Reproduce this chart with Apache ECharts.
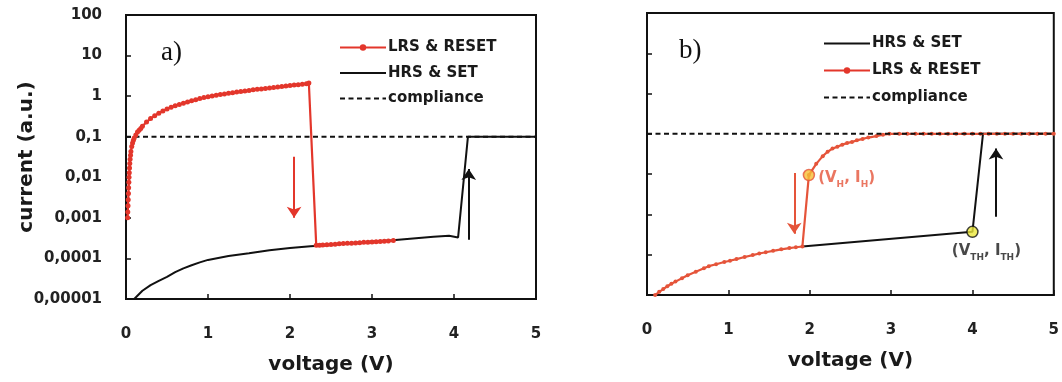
<!DOCTYPE html>
<html><head><meta charset="utf-8">
<script src="https://cdn.jsdelivr.net/npm/echarts@6/dist/echarts.min.js"></script>
<style>html,body{margin:0;padding:0;background:#fff}#c{width:1062px;height:382px}</style>
</head><body><div id="c"></div><script>
// ---- data ----
const yTickLabels = ['0,00001','0,0001','0,001','0,01','0,1','1','10','100'];
const complianceLevel = [[0,0.1],[5,0.1]];
// panel a) LRS & RESET (V, I)
const lrsA = [[0.02,0.001],[0.022,0.0014],[0.025,0.002],[0.027,0.0028],[0.03,0.004],[0.032,0.0055],[0.035,0.0075],[0.037,0.01],[0.04,0.013],[0.043,0.017],[0.046,0.022],[0.05,0.028],[0.055,0.035],[0.06,0.043],[0.07,0.057],[0.08,0.07],[0.09,0.082],[0.1,0.093],[0.12,0.11],[0.14,0.13],[0.16,0.145],[0.18,0.16],[0.2,0.18],[0.25,0.23],[0.3,0.28],[0.35,0.33],[0.4,0.38],[0.45,0.43],[0.5,0.48],[0.55,0.53],[0.6,0.58],[0.65,0.62],[0.7,0.67],[0.75,0.72],[0.8,0.77],[0.85,0.82],[0.9,0.87],[0.95,0.92],[1.0,0.97],[1.05,1.01],[1.1,1.05],[1.15,1.09],[1.2,1.13],[1.25,1.18],[1.3,1.22],[1.35,1.26],[1.4,1.3],[1.45,1.34],[1.5,1.38],[1.55,1.43],[1.6,1.47],[1.65,1.51],[1.7,1.55],[1.75,1.59],[1.8,1.63],[1.85,1.68],[1.9,1.72],[1.95,1.77],[2.0,1.82],[2.05,1.87],[2.1,1.92],[2.15,1.97],[2.2,2.02],[2.23,2.1],[2.32,0.00021],[2.36,0.000212],[2.4,0.000215],[2.45,0.000218],[2.5,0.00022],[2.55,0.000225],[2.6,0.00023],[2.65,0.000232],[2.7,0.000235],[2.75,0.000238],[2.8,0.00024],[2.85,0.000245],[2.9,0.00025],[2.95,0.000252],[3.0,0.000255],[3.05,0.000258],[3.1,0.00026],[3.15,0.000265],[3.2,0.00027],[3.26,0.000275]];
// panel a) HRS & SET
const hrsA = [[0.1,0.00001],[0.2,0.000016],[0.3,0.000022],[0.4,0.000028],[0.5,0.000035],[0.6,0.000046],[0.7,0.000057],[0.8,0.000068],[0.9,0.00008],[1.0,0.000092],[1.25,0.000115],[1.5,0.000135],[1.75,0.00016],[2.0,0.00018],[2.25,0.0002],[2.5,0.000215],[2.75,0.00024],[3.0,0.00026],[3.25,0.00028],[3.5,0.00031],[3.75,0.00034],[3.94,0.00036],[4.05,0.00033],[4.17,0.1],[5,0.1]];
// panel b) LRS & RESET
const lrsB = [[0.1,0.00001],[0.15,0.000012],[0.2,0.000014],[0.25,0.0000165],[0.3,0.000019],[0.35,0.0000215],[0.43,0.000026],[0.5,0.000031],[0.6,0.000038],[0.7,0.000046],[0.76,0.000052],[0.85,0.000058],[0.95,0.000066],[1.02,0.000071],[1.1,0.000078],[1.2,0.000088],[1.3,0.000098],[1.38,0.000107],[1.46,0.000115],[1.55,0.000125],[1.65,0.000136],[1.75,0.000146],[1.83,0.000153],[1.91,0.00016],[1.99,0.0095],[2.08,0.018],[2.16,0.028],[2.22,0.036],[2.28,0.043],[2.34,0.048],[2.4,0.054],[2.46,0.059],[2.52,0.063],[2.58,0.069],[2.65,0.075],[2.72,0.081],[2.82,0.088],[2.9,0.095],[2.98,0.1],[3.1,0.1],[3.2,0.1],[3.3,0.1],[3.4,0.1],[3.5,0.1],[3.6,0.1],[3.7,0.1],[3.8,0.1],[3.9,0.1],[4.0,0.1],[4.1,0.1],[4.2,0.1],[4.3,0.1],[4.4,0.1],[4.5,0.1],[4.6,0.1],[4.7,0.1],[4.8,0.1],[4.9,0.1],[5.0,0.1]];
// panel b) HRS & SET
const hrsB = [[1.91,0.00016],[4.0,0.00037],[4.13,0.1],[5,0.1]];
// special points
const holdPoint = [[1.99,0.0095]];
const thresholdPoint = [[4.0,0.00037]];
// arrows [[x1,y1],[x2,y2]] (tail -> head)
const arrowsA = [[[2.05,0.032],[2.05,0.001]],[[4.18,0.00029],[4.18,0.016]]];
const arrowsB = [[[1.81,0.0107],[1.81,0.00033]],[[4.29,0.00087],[4.29,0.043]]];

const F = 'DejaVu Sans';
const RED_A = '#e3362b', RED_B = '#e5543a', INK = '#111';

function xAx(gi){
  return {type:'value', gridIndex:gi, min:0, max:5, interval:1,
    name:'voltage (V)', nameLocation:'middle', nameGap:56, nameMoveOverlap:false,
    nameTextStyle:{fontFamily:F, fontWeight:'bold', fontSize:20, color:'#1a1a1a'},
    axisLine:{onZero:false, lineStyle:{color:INK, width:2}},
    axisTick:{inside:true, length:5, lineStyle:{color:INK, width:1.5}},
    axisLabel:{margin:28, fontFamily:F, fontWeight:'bold', fontSize:15, color:'#222'},
    splitLine:{show:false}};
}
function yAx(gi, labels){
  const a = {type:'log', logBase:10, gridIndex:gi, min:0.00001, max:100,
    axisLine:{show:true, onZero:false, lineStyle:{color:INK, width:2}},
    axisTick:{show:true, inside:true, length:5, lineStyle:{color:INK, width:1.5}},
    axisLabel:{show:labels, margin:24, fontFamily:F, fontWeight:'bold', fontSize:15, color:'#222',
      formatter: v => yTickLabels[Math.round(Math.log10(v)) + 5]},
    splitLine:{show:false}, minorTick:{show:false}};
  if (labels) {
    a.name = 'current (a.u.)'; a.nameLocation = 'middle'; a.nameGap = 89; a.nameMoveOverlap = false;
    a.nameTextStyle = {fontFamily:F, fontWeight:'bold', fontSize:20, color:'#1a1a1a'};
  }
  return a;
}
function arrowML(list, colors){
  return {silent:true, animation:false, symbol:['none','arrow'], symbolSize:11,
    label:{show:false}, emphasis:{disabled:true},
    data: list.map((p,i)=>[
      {coord:p[0], lineStyle:{color:colors[i], width:2, type:'solid'}, itemStyle:{color:colors[i]}},
      {coord:p[1], lineStyle:{color:colors[i], width:2, type:'solid'}, itemStyle:{color:colors[i]}}])};
}
const subRich = (color) => ({
  n:{fontFamily:F, fontWeight:'bold', fontSize:15, color:color, lineHeight:18, verticalAlign:'bottom'},
  s:{fontFamily:F, fontWeight:'bold', fontSize:9, color:color, lineHeight:12, verticalAlign:'bottom', padding:[0,0,-3,0]}
});
const legText = {fontFamily:F, fontWeight:'bold', fontSize:15, color:'#1a1a1a', padding:[0,0,0,-3]};
const noDot = {opacity:0};

const option = {
  animation:false,
  backgroundColor:'#fff',
  title:[
    {text:'a)', left:161, top:39, padding:0, textStyle:{fontFamily:'Liberation Serif', fontWeight:'normal', fontSize:27, color:'#111'}},
    {text:'b)', left:679, top:37, padding:0, textStyle:{fontFamily:'Liberation Serif', fontWeight:'normal', fontSize:27, color:'#111'}}
  ],
  legend:[
    {data:['LRS & RESET',{name:'HRS & SET', itemStyle:noDot},{name:'compliance', itemStyle:noDot}], orient:'vertical', left:334, top:35, itemWidth:46, itemHeight:8, itemGap:10.5,
      textStyle:legText, selectedMode:false},
    {data:[{name:'HRS & SET', itemStyle:noDot},'LRS & RESET',{name:'compliance', itemStyle:noDot}], orient:'vertical', left:818, top:31, itemWidth:46, itemHeight:8, itemGap:12,
      textStyle:legText, selectedMode:false}
  ],
  grid:[
    {left:126, right:526, top:15, bottom:83, show:true, borderColor:INK, borderWidth:2, backgroundColor:'#fff'},
    {left:647, right:3, top:13, bottom:87, show:true, borderColor:INK, borderWidth:2, backgroundColor:'#fff'}
  ],
  xAxis:[xAx(0), xAx(1)],
  yAxis:[yAx(0,true), yAx(1,false)],
  series:[
    {name:'compliance', type:'line', xAxisIndex:0, yAxisIndex:0, data:complianceLevel, symbol:'none',
      lineStyle:{color:INK, width:2, type:[5,3.5]}, itemStyle:{color:INK}, z:2,
      markLine: arrowML(arrowsA, [RED_A, INK])},
    {name:'HRS & SET', type:'line', xAxisIndex:0, yAxisIndex:0, data:hrsA, symbol:'none',
      lineStyle:{color:INK, width:2}, itemStyle:{color:INK}, z:3},
    {name:'LRS & RESET', type:'line', xAxisIndex:0, yAxisIndex:0, data:lrsA, symbol:'circle', symbolSize:5, showSymbol:true,
      lineStyle:{color:RED_A, width:2.2}, itemStyle:{color:RED_A}, z:4},

    {name:'HRS & SET', type:'line', xAxisIndex:1, yAxisIndex:1, data:hrsB, symbol:'none',
      lineStyle:{color:INK, width:2}, itemStyle:{color:INK}, z:3},
    {name:'LRS & RESET', type:'line', xAxisIndex:1, yAxisIndex:1, data:lrsB, symbol:'circle', symbolSize:4, showSymbol:true,
      lineStyle:{color:RED_B, width:2.2}, itemStyle:{color:RED_B}, z:4},
    {name:'compliance', type:'line', xAxisIndex:1, yAxisIndex:1, data:complianceLevel, symbol:'none',
      lineStyle:{color:INK, width:2, type:[5,3.5]}, itemStyle:{color:INK}, z:5,
      markLine: arrowML(arrowsB, [RED_B, INK])},
    {name:'hold', type:'scatter', xAxisIndex:1, yAxisIndex:1, data:holdPoint, symbol:'circle', symbolSize:11,
      itemStyle:{color:'#f6bf35', borderColor:RED_B, borderWidth:1.5}, z:10,
      label:{show:true, position:'right', distance:3, offset:[0,2], formatter:'{n|(V}{s|H}{n|, I}{s|H}{n|)}', rich:subRich(RED_B)}},
    {name:'threshold', type:'scatter', xAxisIndex:1, yAxisIndex:1, data:thresholdPoint, symbol:'circle', symbolSize:11,
      itemStyle:{color:'#ece83c', borderColor:INK, borderWidth:1.5}, z:10,
      label:{show:true, position:'bottom', distance:3, offset:[14,0], formatter:'{n|(V}{s|TH}{n|, I}{s|TH}{n|)}', rich:subRich('#1a1a1a')}}
  ]
};
const chart = echarts.init(document.getElementById('c'), null, {renderer:'canvas'});
chart.setOption(option);
</script></body></html>
